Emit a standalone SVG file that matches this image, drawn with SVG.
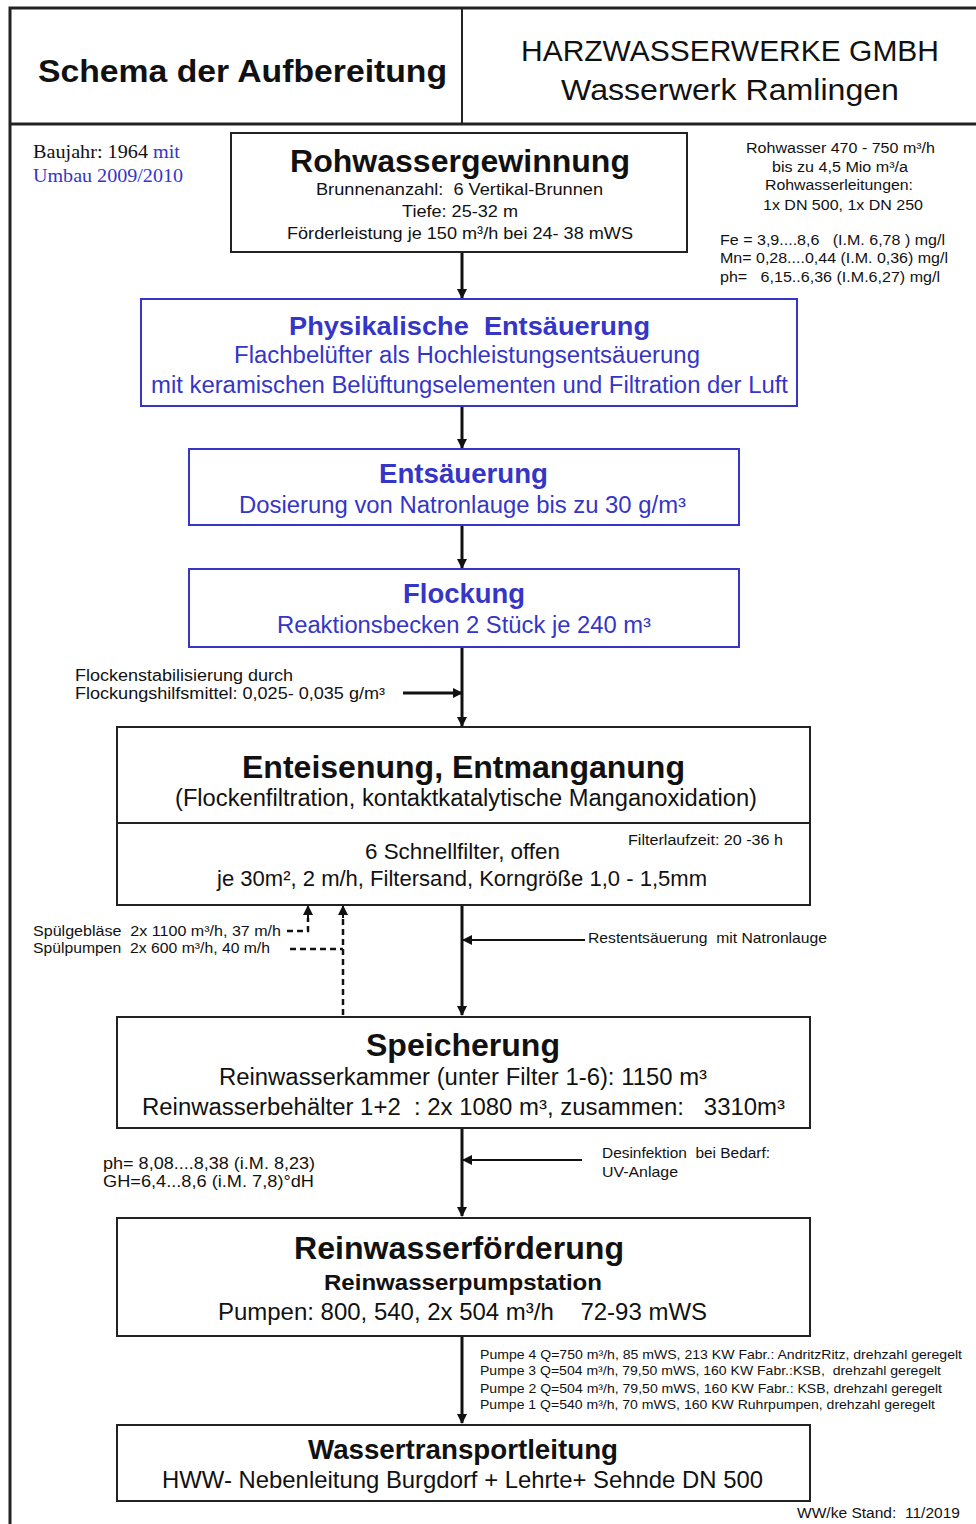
<svg xmlns="http://www.w3.org/2000/svg" width="976" height="1524" viewBox="0 0 976 1524">
<defs>
<marker id="ahs" viewBox="0 0 10 10" refX="9" refY="5" markerWidth="10" markerHeight="10" orient="auto" markerUnits="userSpaceOnUse">
<path d="M0,0 L10,5 L0,10 z" fill="#111"/>
</marker>
<style>
text{font-family:"Liberation Sans",Arial,sans-serif;fill:#111}
.box{fill:#fff;stroke:#222;stroke-width:2}
.bbox{fill:#fff;stroke:#3535c8;stroke-width:2}
.b{font-weight:bold}
.blue{fill:#3535c8}
.ln{stroke:#111;stroke-width:3;fill:none}
.ln2{stroke:#111;stroke-width:2;fill:none}
.dash{stroke:#111;stroke-width:2.5;fill:none;stroke-dasharray:6,4}
.ser{font-family:"Liberation Serif","Times New Roman",serif}
</style>
</defs>
<rect width="976" height="1524" fill="#fff"/>

<g id="header">
<path d="M10,1524 L10,8 L976,8" fill="none" stroke="#222" stroke-width="3"/>
<line x1="10" y1="124" x2="976" y2="124" stroke="#222" stroke-width="3"/>
<line x1="462" y1="8" x2="462" y2="124" stroke="#222" stroke-width="2"/>
<text x="38" y="82" class="b" font-size="32" textLength="409" lengthAdjust="spacingAndGlyphs">Schema der Aufbereitung</text>
<text x="521" y="61" font-size="29" textLength="418" lengthAdjust="spacingAndGlyphs">HARZWASSERWERKE GMBH</text>
<text x="561" y="100" font-size="30" textLength="338" lengthAdjust="spacingAndGlyphs">Wasserwerk Ramlingen</text>
</g>

<g id="baujahr">
<text x="33" y="158" class="ser" font-size="18" textLength="147" lengthAdjust="spacingAndGlyphs">Baujahr: 1964 <tspan class="blue">mit</tspan></text>
<text x="33" y="182" class="ser blue" font-size="18" textLength="150" lengthAdjust="spacingAndGlyphs">Umbau 2009/2010</text>
</g>

<g id="rohinfo">
<text x="746" y="153" font-size="14" textLength="189" lengthAdjust="spacingAndGlyphs">Rohwasser 470 - 750 m³/h</text>
<text x="772" y="172" font-size="14" textLength="136" lengthAdjust="spacingAndGlyphs">bis zu 4,5 Mio m³/a</text>
<text x="765" y="190" font-size="14" textLength="148" lengthAdjust="spacingAndGlyphs">Rohwasserleitungen:</text>
<text x="763" y="210" font-size="14" textLength="160" lengthAdjust="spacingAndGlyphs">1x DN 500, 1x DN 250</text>
<text x="720" y="245" font-size="14" textLength="225" lengthAdjust="spacingAndGlyphs" xml:space="preserve">Fe = 3,9....8,6   (I.M. 6,78 ) mg/l</text>
<text x="720" y="263" font-size="14" textLength="228" lengthAdjust="spacingAndGlyphs">Mn= 0,28....0,44 (I.M. 0,36) mg/l</text>
<text x="720" y="282" font-size="14" textLength="220" lengthAdjust="spacingAndGlyphs" xml:space="preserve">ph=   6,15..6,36 (I.M.6,27) mg/l</text>
</g>

<g id="connectors">
<line x1="462" y1="252" x2="462" y2="298" class="ln" marker-end="url(#ahs)"/>
<line x1="462" y1="406" x2="462" y2="448" class="ln" marker-end="url(#ahs)"/>
<line x1="462" y1="525" x2="462" y2="568" class="ln" marker-end="url(#ahs)"/>
<line x1="462" y1="647" x2="462" y2="726" class="ln" marker-end="url(#ahs)"/>
<line x1="403" y1="693" x2="462" y2="693" class="ln" marker-end="url(#ahs)"/>
<line x1="462" y1="905" x2="462" y2="1015" class="ln" marker-end="url(#ahs)"/>
<line x1="585" y1="940" x2="463" y2="940" class="ln2" marker-end="url(#ahs)"/>
<polyline points="287,931 308,931 308,918" class="dash"/>
<line x1="308" y1="918" x2="308" y2="906" class="ln2" marker-end="url(#ahs)"/>
<polyline points="290,949 343,949" class="dash"/>
<line x1="343" y1="1015" x2="343" y2="918" class="dash"/>
<line x1="343" y1="918" x2="343" y2="906" class="ln2" marker-end="url(#ahs)"/>
<line x1="462" y1="1128" x2="462" y2="1216" class="ln" marker-end="url(#ahs)"/>
<line x1="582" y1="1160" x2="463" y2="1160" class="ln2" marker-end="url(#ahs)"/>
<line x1="462" y1="1336" x2="462" y2="1423" class="ln" marker-end="url(#ahs)"/>
</g>

<g id="roh">
<rect x="231" y="133" width="456" height="119" class="box"/>
<text x="290" y="172" class="b" font-size="31" textLength="340" lengthAdjust="spacingAndGlyphs">Rohwassergewinnung</text>
<text x="316" y="195" font-size="17" textLength="287" lengthAdjust="spacingAndGlyphs" xml:space="preserve">Brunnenanzahl:  6 Vertikal-Brunnen</text>
<text x="402" y="217" font-size="17" textLength="116" lengthAdjust="spacingAndGlyphs">Tiefe: 25-32 m</text>
<text x="287" y="239" font-size="17" textLength="346" lengthAdjust="spacingAndGlyphs">Förderleistung je 150 m³/h bei 24- 38 mWS</text>
</g>

<g id="phys">
<rect x="141" y="299" width="656" height="107" class="bbox"/>
<text x="289" y="335" class="b blue" font-size="26" textLength="361" lengthAdjust="spacingAndGlyphs" xml:space="preserve">Physikalische  Entsäuerung</text>
<text x="234" y="363" class="blue" font-size="23" textLength="466" lengthAdjust="spacingAndGlyphs">Flachbelüfter als Hochleistungsentsäuerung</text>
<text x="151" y="393" class="blue" font-size="23" textLength="637" lengthAdjust="spacingAndGlyphs">mit keramischen Belüftungselementen und Filtration der Luft</text>
</g>

<g id="ents">
<rect x="189" y="449" width="550" height="76" class="bbox"/>
<text x="379" y="483" class="b blue" font-size="27" textLength="169" lengthAdjust="spacingAndGlyphs">Entsäuerung</text>
<text x="239" y="513" class="blue" font-size="23" textLength="447" lengthAdjust="spacingAndGlyphs">Dosierung von Natronlauge bis zu 30 g/m³</text>
</g>

<g id="flock">
<rect x="189" y="569" width="550" height="78" class="bbox"/>
<text x="403" y="603" class="b blue" font-size="27" textLength="122" lengthAdjust="spacingAndGlyphs">Flockung</text>
<text x="277" y="633" class="blue" font-size="23" textLength="374" lengthAdjust="spacingAndGlyphs">Reaktionsbecken 2 Stück je 240 m³</text>
</g>

<g id="flockinfo">
<text x="75" y="681" font-size="16" textLength="218" lengthAdjust="spacingAndGlyphs">Flockenstabilisierung durch</text>
<text x="75" y="699" font-size="16" textLength="310" lengthAdjust="spacingAndGlyphs">Flockungshilfsmittel: 0,025- 0,035 g/m³</text>
</g>

<g id="enteisen">
<rect x="117" y="727" width="693" height="178" class="box"/>
<line x1="117" y1="823" x2="810" y2="823" stroke="#222" stroke-width="2"/>
<text x="242" y="778" class="b" font-size="31" textLength="443" lengthAdjust="spacingAndGlyphs">Enteisenung, Entmanganung</text>
<text x="175" y="806" font-size="23" textLength="582" lengthAdjust="spacingAndGlyphs">(Flockenfiltration, kontaktkatalytische Manganoxidation)</text>
<text x="628" y="845" font-size="14" textLength="155" lengthAdjust="spacingAndGlyphs">Filterlaufzeit: 20 -36 h</text>
<text x="365" y="859" font-size="22" textLength="195" lengthAdjust="spacingAndGlyphs">6 Schnellfilter, offen</text>
<text x="217" y="886" font-size="22" textLength="490" lengthAdjust="spacingAndGlyphs">je 30m², 2 m/h, Filtersand, Korngröße 1,0 - 1,5mm</text>
</g>

<g id="spuel">
<text x="33" y="936" font-size="14" textLength="248" lengthAdjust="spacingAndGlyphs" xml:space="preserve">Spülgebläse  2x 1100 m³/h, 37 m/h</text>
<text x="33" y="953" font-size="14" textLength="237" lengthAdjust="spacingAndGlyphs" xml:space="preserve">Spülpumpen  2x 600 m³/h, 40 m/h</text>
</g>

<g id="rest">
<text x="588" y="943" font-size="15" textLength="239" lengthAdjust="spacingAndGlyphs" xml:space="preserve">Restentsäuerung  mit Natronlauge</text>
</g>

<g id="speicher">
<rect x="117" y="1017" width="693" height="111" class="box"/>
<text x="366" y="1056" class="b" font-size="31" textLength="194" lengthAdjust="spacingAndGlyphs">Speicherung</text>
<text x="219" y="1085" font-size="23" textLength="488" lengthAdjust="spacingAndGlyphs">Reinwasserkammer (unter Filter 1-6): 1150 m³</text>
<text x="142" y="1115" font-size="23" textLength="643" lengthAdjust="spacingAndGlyphs" xml:space="preserve">Reinwasserbehälter 1+2  : 2x 1080 m³, zusammen:   3310m³</text>
</g>

<g id="phgh">
<text x="103" y="1169" font-size="16" textLength="212" lengthAdjust="spacingAndGlyphs">ph= 8,08....8,38 (i.M. 8,23)</text>
<text x="103" y="1187" font-size="16" textLength="211" lengthAdjust="spacingAndGlyphs">GH=6,4...8,6 (i.M. 7,8)°dH</text>
</g>

<g id="desinf">
<text x="602" y="1158" font-size="15" textLength="168" lengthAdjust="spacingAndGlyphs" xml:space="preserve">Desinfektion  bei Bedarf:</text>
<text x="602" y="1177" font-size="15" textLength="76" lengthAdjust="spacingAndGlyphs">UV-Anlage</text>
</g>

<g id="reinf">
<rect x="117" y="1218" width="693" height="118" class="box"/>
<text x="294" y="1259" class="b" font-size="31" textLength="330" lengthAdjust="spacingAndGlyphs">Reinwasserförderung</text>
<text x="324" y="1290" class="b" font-size="22" textLength="278" lengthAdjust="spacingAndGlyphs">Reinwasserpumpstation</text>
<text x="218" y="1320" font-size="24" textLength="489" lengthAdjust="spacingAndGlyphs" xml:space="preserve">Pumpen: 800, 540, 2x 504 m³/h    72-93 mWS</text>
</g>

<g id="pumpen">
<text x="480" y="1359" font-size="13" textLength="482" lengthAdjust="spacingAndGlyphs">Pumpe 4 Q=750 m³/h, 85 mWS, 213 KW Fabr.: AndritzRitz, drehzahl geregelt</text>
<text x="480" y="1375" font-size="13" textLength="461" lengthAdjust="spacingAndGlyphs" xml:space="preserve">Pumpe 3 Q=504 m³/h, 79,50 mWS, 160 KW Fabr.:KSB,  drehzahl geregelt</text>
<text x="480" y="1393" font-size="13" textLength="462" lengthAdjust="spacingAndGlyphs">Pumpe 2 Q=504 m³/h, 79,50 mWS, 160 KW Fabr.: KSB, drehzahl geregelt</text>
<text x="480" y="1409" font-size="13" textLength="455" lengthAdjust="spacingAndGlyphs">Pumpe 1 Q=540 m³/h, 70 mWS, 160 KW Ruhrpumpen, drehzahl geregelt</text>
</g>

<g id="transport">
<rect x="117" y="1425" width="693" height="76" class="box"/>
<text x="308" y="1459" class="b" font-size="27" textLength="310" lengthAdjust="spacingAndGlyphs">Wassertransportleitung</text>
<text x="162" y="1488" font-size="24" textLength="601" lengthAdjust="spacingAndGlyphs">HWW- Nebenleitung Burgdorf + Lehrte+ Sehnde DN 500</text>
</g>

<g id="stand">
<text x="797" y="1518" font-size="14" textLength="163" lengthAdjust="spacingAndGlyphs" xml:space="preserve">WW/ke Stand:  11/2019</text>
</g>
</svg>
